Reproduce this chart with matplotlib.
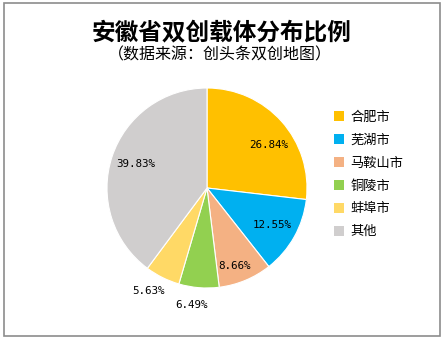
import math
import matplotlib
matplotlib.use("Agg")
import matplotlib.pyplot as plt
from matplotlib.patches import Rectangle, Patch

plt.rcParams['font.family'] = ['Noto Sans CJK SC', 'DejaVu Sans']

title = "安徽省双创载体分布比例"
subtitle = "（数据来源：创头条双创地图）"
categories = ["合肥市", "芜湖市", "马鞍山市", "铜陵市", "蚌埠市", "其他"]
values = [26.84, 12.55, 8.66, 6.49, 5.63, 39.83]
colors = ["#FFC000", "#00B0F0", "#F4B183", "#92D050", "#FFD966", "#D0CECE"]

fig = plt.figure(figsize=(4.45, 3.4), dpi=100)
fig.patches.append(Rectangle((4/445, 4/340), 436/445, 333/340, transform=fig.transFigure,
                             fill=False, edgecolor="#8c8c8c", linewidth=1.2))

ax = fig.add_axes([77/445, 22/340, 260/445, 260/340])
wedges, texts, autotexts = ax.pie(values, colors=colors, startangle=90, counterclock=False,
                                  autopct=lambda p: f"{p:.2f}%", pctdistance=0.76,
                                  wedgeprops=dict(edgecolor="white", linewidth=0.8),
                                  textprops=dict(family="DejaVu Sans Mono", fontsize=7.8))
ax.set_xlim(-1.3, 1.3)
ax.set_ylim(-1.3, 1.3)
ax.set_aspect("equal")
ax.axis("off")

# label placement: small slices outside, others inside (Excel "best fit" style)
cum = 0
for v, t in zip(values, autotexts):
    mid = 90 - (cum + v / 2) * 3.6
    cum += v
    if v < 7:
        r, off = 1.18, -3
    elif v < 10:
        r, off = 0.83, -3
    elif v > 20 and v < 30:
        r, off = 0.75, -7
    else:
        r, off = 0.75, 0
    a = math.radians(mid + off)
    t.set_position((r * math.cos(a), r * math.sin(a)))

fig.text(222/445, 1 - 32/340, title, ha="center", va="center", fontsize=17, fontweight="bold")
fig.text(220/445, 1 - 55/340, subtitle, ha="center", va="center", fontsize=11.5)

handles = [Patch(facecolor=c, edgecolor="none") for c in colors]
fig.legend(handles, categories, loc="upper left", bbox_to_anchor=(322/445, 1 - 99/340),
           frameon=False, fontsize=9.5, handlelength=0.75, handleheight=0.75,
           handletextpad=0.5, labelspacing=0.75)

fig.savefig("out.png", dpi=100)
